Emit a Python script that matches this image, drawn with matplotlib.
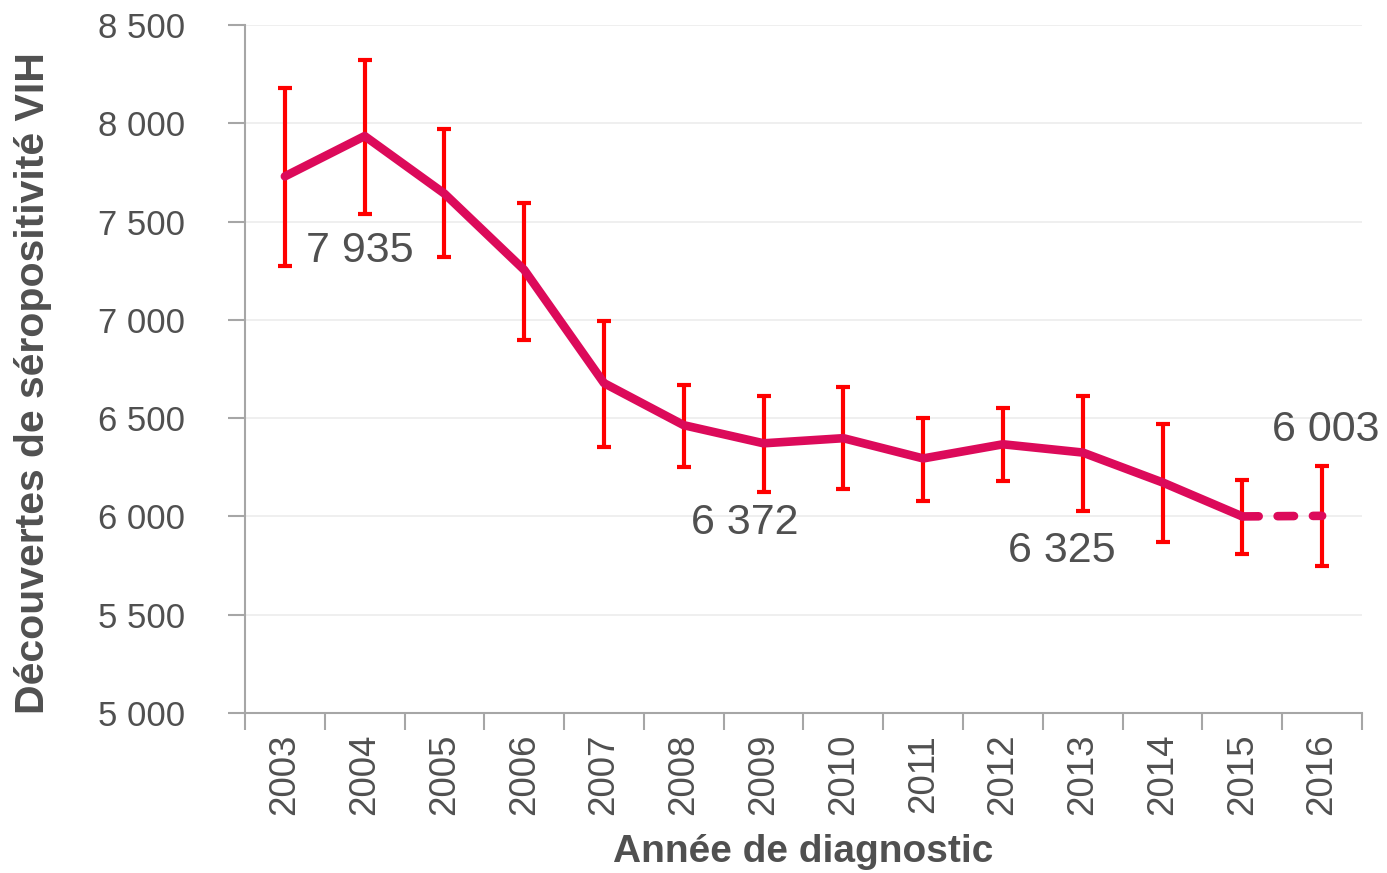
import numpy as np
import matplotlib
matplotlib.use('Agg')
import matplotlib.pyplot as plt
from matplotlib.ticker import FixedLocator

plt.rcParams['font.family'] = ['Liberation Sans', 'DejaVu Sans']

# données
annees = ['2003', '2004', '2005', '2006', '2007', '2008', '2009',
          '2010', '2011', '2012', '2013', '2014', '2015', '2016']
decouvertes = [7730, 7935, 7642, 7254, 6678, 6464, 6372,
               6398, 6295, 6367, 6325, 6173, 6000, 6003]
ic_haut = [8178, 8320, 7970, 7592, 6995, 6668, 6612,
           6658, 6500, 6551, 6612, 6468, 6183, 6259]
ic_bas = [7276, 7536, 7322, 6898, 6352, 6250, 6122,
          6137, 6081, 6178, 6030, 5868, 5807, 5746]
y_ticks = [5000, 5500, 6000, 6500, 7000, 7500, 8000, 8500]
y_labels = ['5 000', '5 500', '6 000', '6 500', '7 000', '7 500', '8 000', '8 500']
# étiquettes affichées : index de l'année -> décalage en pixels
etiquettes = {1: (-5, -115), 6: (-19, -80), 10: (-21, -98), 13: (4, 86)}

txt = '#505050'
axe = '#a6a6a6'
rose = '#dc0a5a'

fig = plt.figure(figsize=(13.87, 8.73), dpi=100)
ax = fig.add_axes([245 / 1387, 1 - 713 / 873, 1117 / 1387, 688 / 873])

x = np.arange(len(annees))
y = np.array(decouvertes)
err = [y - np.array(ic_bas), np.array(ic_haut) - y]

ax.errorbar(x, y, yerr=err, fmt='none', ecolor='#ff0000', elinewidth=3,
            capsize=5, capthick=3, zorder=2)
ax.plot(x[:-1], y[:-1], color=rose, lw=6.2, solid_joinstyle='round',
        solid_capstyle='round', zorder=3)
ax.plot(x[-2:], y[-2:], color=rose, lw=6.2, linestyle=(0, (1.9, 2.2)),
        dash_capstyle='round', zorder=3)

for i, (dx, dy) in etiquettes.items():
    ax.annotate(f'{decouvertes[i]:,}'.replace(',', ' '),
                xy=(x[i], y[i]), xytext=(dx, dy), textcoords='offset pixels',
                ha='center', va='center', fontsize=31, color=txt)

ax.set_xlim(-0.5, len(annees) - 0.5)
ax.set_ylim(5000, 8500)
ax.set_yticks(y_ticks)
ax.set_yticklabels(y_labels)
ax.set_xticks(x)
ax.set_xticklabels(annees, rotation=90)
ax.xaxis.set_minor_locator(FixedLocator(np.arange(-0.5, len(annees), 1.0)))
ax.tick_params(axis='x', which='major', length=0, pad=15, labelsize=26.5, labelcolor=txt)
ax.tick_params(axis='x', which='minor', length=12, width=1.5, color=axe, direction='out')
ax.tick_params(axis='y', length=12, width=1.5, color=axe, pad=31, labelsize=25, labelcolor=txt)

ax.grid(axis='y', color='#ececec', lw=1.2)
ax.set_axisbelow(True)
for s in ['top', 'right']:
    ax.spines[s].set_visible(False)
for s in ['left', 'bottom']:
    ax.spines[s].set_color(axe)
    ax.spines[s].set_linewidth(1.5)

ax.set_xlabel('Année de diagnostic', fontsize=28, fontweight='bold', color=txt, labelpad=13)
ax.set_ylabel('Découvertes de séropositivité VIH', fontsize=29.5, fontweight='bold',
              color=txt, va='center')
ax.yaxis.set_label_coords(-0.19, 0.48)

fig.savefig('out.png', dpi=100)
